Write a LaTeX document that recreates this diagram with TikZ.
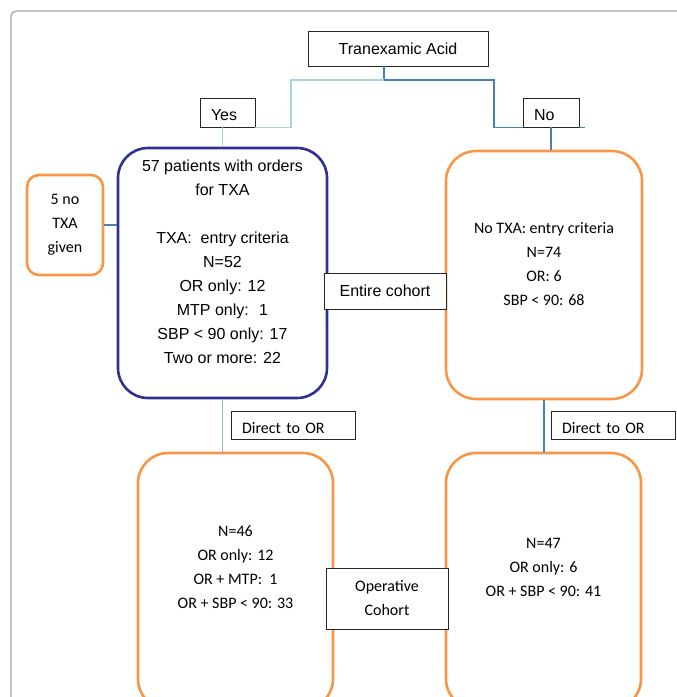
\documentclass[tikz,border=0pt]{standalone}
\usepackage{fontspec}
\setmainfont{Carlito}
\newfontfamily\arialfont{Liberation Sans}
\usepackage{xcolor}

\definecolor{txanavy}{HTML}{2E3192}
\definecolor{cohortorange}{HTML}{F79646}
\definecolor{paleblue}{HTML}{A5D5E2}
\definecolor{softblue}{HTML}{95B3D7}
\definecolor{linkblue}{HTML}{4A7EBB}
\definecolor{framegray}{HTML}{A6A6A6}

\tikzset{
    arialtext/.style={font=\arialfont\fontsize{16}{24}\selectfont},
    calibritext/.style={font=\fontsize{16}{24}\selectfont},
    plainbox/.style={
        draw=black!85,
        line width=0.9pt,
        inner sep=0pt,
        arialtext
    },
    tagbox/.style={
        draw=black!85,
        line width=0.9pt,
        inner xsep=11pt,
        inner ysep=0pt,
        text height=18pt,
        text depth=2pt,
        align=left,
        calibritext
    },
    navybox/.style={draw=txanavy, line width=2.6pt, rounded corners=30pt},
    orangebox/.style={draw=cohortorange, line width=2.6pt, rounded corners=30pt},
    paleline/.style={draw=paleblue, line width=1.1pt},
    softline/.style={draw=softblue, line width=1.1pt},
    linkline/.style={draw=linkblue, line width=1.1pt}
}

\begin{document}
\begin{tikzpicture}[x=1pt, y=-1pt]
    \clip (0,0) rectangle (677,697);
    % outer frame
    \draw[framegray, line width=1.3pt, rounded corners=6pt] (11,705) -- (11,11) -- (685,11);

    % top of the tree
    \node[plainbox, minimum width=180pt, minimum height=35pt] (acid) at (398,48.5) {Tranexamic Acid};
    \node[tagbox, arialtext, fill=white, text width=33pt, minimum height=29pt] (yes) at (227.5,112.5) {Yes};
    \node[tagbox, arialtext, fill=white, text width=34pt, minimum height=29pt] (no) at (551,112.5) {No};

    % cohort boxes
    \node[navybox, minimum width=209pt, minimum height=250pt] (txa) at (222.5,273) {};
    \node[orangebox, rounded corners=12pt, calibritext, align=center,
          minimum width=76pt, minimum height=100pt] (skip) at (65,225) {5 no\\TXA\\given};
    \node[orangebox, minimum width=196pt, minimum height=248pt] (notxa) at (544,275) {};
    \node[orangebox, minimum width=195pt, minimum height=256pt] (orL) at (235.5,581) {};
    \node[orangebox, minimum width=195pt, minimum height=256pt] (orR) at (543.5,581) {};

    % box contents
    \node[arialtext, align=center] (txa-text) at (222.5,262)
        {57 patients with orders\\for TXA\\[24pt]TXA:~ entry criteria\\N=52\\OR only: 12\\MTP only:~ 1\\SBP < 90 only: 17\\Two or more: 22};
    \node[calibritext, align=center] (notxa-text) at (544,264)
        {No TXA: entry criteria\\N=74\\OR: 6\\SBP < 90: 68};
    \node[calibritext, align=center] (orL-text) at (235.5,567)
        {N=46\\OR only: 12\\OR + MTP:~ 1\\OR + SBP < 90: 33};
    \node[calibritext, align=center] (orR-text) at (543.5,567)
        {N=47\\OR only: 6\\OR + SBP < 90: 41};

    % connectors
    \coordinate (fork) at (384,80);
    \draw[linkline] ([xshift=-14pt]acid.south) -- (fork);
    \draw[paleline] (fork) -- (291,80) |- (yes.south east);
    \draw[linkline] (fork) -- (494,80) |- (no.south west);
    \draw[linkline] (no.south east) -- ++(6,0);
    \draw[paleline] (txa.north) -- (txa.north |- yes.south);
    \draw[linkline] (no.south) -- (no.south |- notxa.north);
    \draw[linkline] (skip.east) -- (skip.east -| txa.west);
    \draw[softline] (txa.south) -- (txa.south |- orL.north);
    \draw[linkline] (notxa.south) -- (notxa.south |- orR.north);

    % labels on the links
    \node[plainbox, fill=white, minimum width=122pt, minimum height=36pt] (entire) at (385,291) {Entire cohort};
    \node[plainbox, calibritext, fill=white, align=center,
          minimum width=122pt, minimum height=61pt] (operative) at (387,598.5) {Operative\\Cohort};
    \node[tagbox, fill=white, text width=102pt, minimum height=28pt] (directL) at (293,425) {Direct to OR};
    \node[tagbox, fill=white, text width=102pt, minimum height=28pt] (directR) at (613,425) {Direct to OR};
\end{tikzpicture}
\end{document}
